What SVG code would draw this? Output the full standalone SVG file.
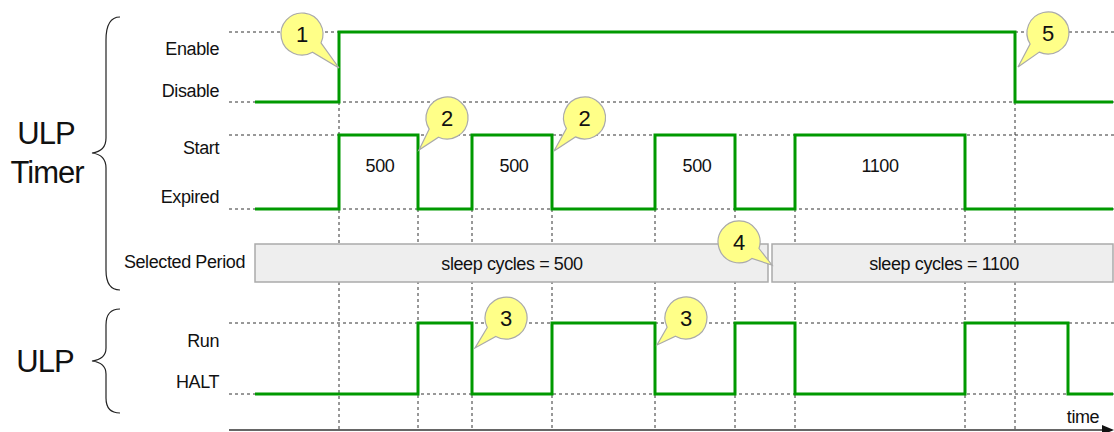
<svg xmlns="http://www.w3.org/2000/svg" width="1114" height="432" viewBox="0 0 1114 432">
<style>
text{font-family:"Liberation Sans",Arial,sans-serif;fill:#111;}
.lbl{font-size:18px;letter-spacing:-0.4px;text-anchor:end;}
.big{font-size:31px;letter-spacing:-1px;text-anchor:middle;}
.val{font-size:18px;letter-spacing:-0.4px;text-anchor:middle;}
.num{font-size:22px;text-anchor:middle;}
.dash{stroke:#333;stroke-width:1;stroke-dasharray:3,3;fill:none;}
.sig{stroke:#009900;stroke-width:3;fill:none;stroke-linejoin:miter;}
.brace{stroke:#222;stroke-width:1.2;fill:none;}
.box{fill:#eeeeee;stroke:#aaaaaa;stroke-width:1.5;}
.call{fill:#ffff88;stroke:#aaaaaa;stroke-width:1.2;}
</style>
<defs>
<marker id="arr" markerWidth="12" markerHeight="10" refX="2" refY="5" orient="auto" markerUnits="userSpaceOnUse">
<path d="M0,0 L12,5 L0,10 Z" fill="#111"/>
</marker>
</defs>
<g id="labels">
<text class="big" x="46" y="144">ULP</text>
<text class="big" x="47" y="183">Timer</text>
<text class="big" x="45" y="372">ULP</text>
<text class="lbl" x="219" y="55">Enable</text>
<text class="lbl" x="219" y="97">Disable</text>
<text class="lbl" x="219" y="154">Start</text>
<text class="lbl" x="219" y="203">Expired</text>
<text class="lbl" x="245" y="268">Selected Period</text>
<text class="lbl" x="219" y="347">Run</text>
<text class="lbl" x="219" y="388">HALT</text>
<text class="val" x="1083" y="423">time</text>
</g>
<g id="braces">
<path class="brace" d="M120 17 C110 17 106 25 106 40 L106 138 C106 148 100 152 92 153 C100 154 106 158 106 168 L106 270 C106 283 110 290 120 290"/>
<path class="brace" d="M120 309 C110 309 106 315 106 325 L106 348 C106 356 100 360 92 361 C100 362 106 366 106 374 L106 398 C106 408 110 413 120 413"/>
</g>
<g id="grid">
<path class="dash" d="M229 32H1114 M229 102H1114 M229 135H1114 M229 209H1114 M229 323H1114 M229 394H1114"/>
<path class="dash" d="M339 102V430 M418 209V430 M472 209V430 M552 209V430 M655 209V430 M735 209V430 M795 209V430 M965 209V430 M1015 102V430"/>
</g>
<g id="periods">
<g id="period1"><rect class="box" x="255" y="244" width="513" height="38"/><text class="val" x="512" y="270">sleep cycles = 500</text></g>
<g id="period2"><rect class="box" x="772" y="244" width="341" height="38"/><text class="val" x="944" y="270">sleep cycles = 1100</text></g>
</g>
<g id="signals">
<path id="enable" class="sig" d="M255 102H339V32H1015V102H1113"/>
<path id="timer" class="sig" d="M255 209H339V135H418V209H472V135H552V209H655V135H735V209H795V135H965V209H1113"/>
<path id="ulp" class="sig" d="M255 394H418V323H472V394H552V323H655V394H735V323H795V394H965V323H1068V394H1113"/>
<text class="val" x="380" y="172">500</text>
<text class="val" x="514" y="172">500</text>
<text class="val" x="697" y="172">500</text>
<text class="val" x="880" y="172">1100</text>
</g>
<g id="connectors">
<line x1="229" y1="430" x2="1104" y2="430" stroke="#666" stroke-width="2" marker-end="url(#arr)"/>
</g>
<g id="callout1"><path class="call" d="M321 42.9 A21 21 0 1 0 312.5 52.2 L339 68 Z"/><text class="num" x="302" y="42">1</text></g>
<g id="callout2a"><path class="call" d="M438.5 137.2 A21 21 0 1 0 429.2 129.1 L419 150 Z"/><text class="num" x="447" y="126">2</text></g>
<g id="callout2b"><path class="call" d="M575.4 136.9 A21 21 0 1 0 566.4 128.6 L554 151 Z"/><text class="num" x="584.5" y="126">2</text></g>
<g id="callout3a"><path class="call" d="M495.8 336.4 A21 21 0 1 0 487.3 327.5 L475 348 Z"/><text class="num" x="506" y="326">3</text></g>
<g id="callout3b"><path class="call" d="M675.5 336.2 A21 21 0 1 0 667.1 327.2 L657 345 Z"/><text class="num" x="686" y="326">3</text></g>
<g id="callout4"><path class="call" d="M759 248.5 A21 21 0 1 0 751.9 258.5 L772 265 Z"/><text class="num" x="739" y="250">4</text></g>
<g id="callout5"><path class="call" d="M1039.3 52.1 A21 21 0 1 0 1030.1 44 L1018 67 Z"/><text class="num" x="1048" y="41">5</text></g>
</svg>
